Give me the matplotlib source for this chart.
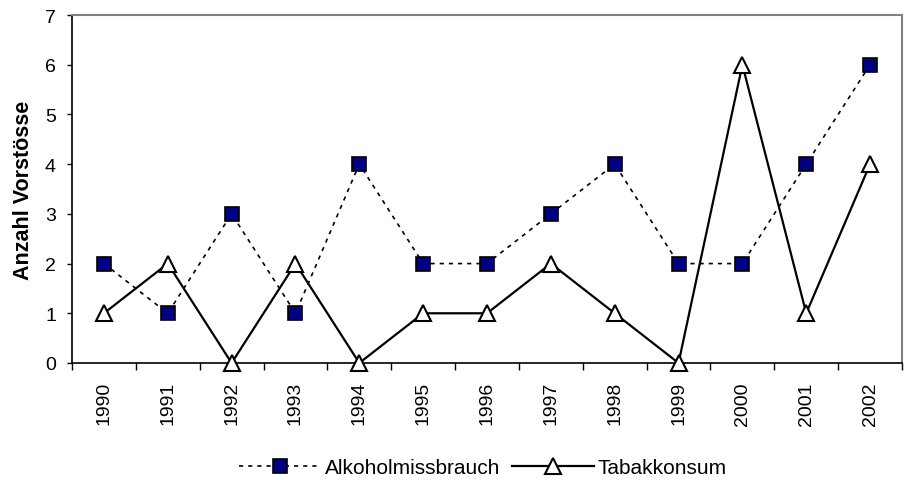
import matplotlib
matplotlib.use('Agg')
import matplotlib.pyplot as plt
import numpy as np

plt.rcParams['font.family'] = ['Liberation Sans', 'DejaVu Sans']

jahre = ['1990', '1991', '1992', '1993', '1994', '1995', '1996',
         '1997', '1998', '1999', '2000', '2001', '2002']
alkohol = [2, 1, 3, 1, 4, 2, 2, 3, 4, 2, 2, 4, 6]
tabak = [1, 2, 0, 2, 0, 1, 1, 2, 1, 0, 6, 1, 4]

fig = plt.figure(figsize=(9.1, 4.81), dpi=100)
ax = fig.add_axes([72 / 910, 1 - 364 / 481, 830 / 910, 348 / 481])

x = np.arange(len(jahre))
ax.plot(x, alkohol, color='black', linestyle=(0, (2.5, 3)), linewidth=1.2,
        marker='s', markersize=10, markerfacecolor='#000080',
        markeredgecolor='black', markeredgewidth=1.2, clip_on=False,
        label='Alkoholmissbrauch', zorder=3)
ax.plot(x, tabak, color='black', linestyle='-', linewidth=1.6,
        marker='^', markersize=11, markerfacecolor='white',
        markeredgecolor='black', markeredgewidth=1.5, clip_on=False,
        label='Tabakkonsum', zorder=4)

ax.set_xlim(-0.5, len(jahre) - 0.5)
ax.set_ylim(0, 7)
ax.set_yticks(range(0, 8))
ax.set_xticks(x)
ax.set_xticklabels(jahre, rotation=90, fontsize=14)
ax.set_xticks(np.arange(-0.5, len(jahre)), minor=True)
ax.tick_params(axis='x', which='major', length=0, pad=13)
ax.tick_params(axis='x', which='minor', length=5, width=1, direction='out')
ax.tick_params(axis='y', length=3.6, width=1, direction='out', labelsize=14, pad=8)

ax.spines['top'].set_color('#808080')
ax.spines['right'].set_color('#808080')
ax.spines['top'].set_linewidth(1.5)
ax.spines['right'].set_linewidth(1.5)
ax.spines['left'].set_linewidth(1.2)
ax.spines['bottom'].set_linewidth(1.2)

ax.set_ylabel('Anzahl Vorstösse', fontsize=15.5, fontweight='bold', labelpad=8)

fig.legend(loc='center', bbox_to_anchor=(483 / 910, 1 - 469 / 481), ncol=2,
           frameon=False, fontsize=15, handlelength=3.9, columnspacing=0.6,
           handletextpad=0.2)

fig.savefig('out.png', dpi=100)
